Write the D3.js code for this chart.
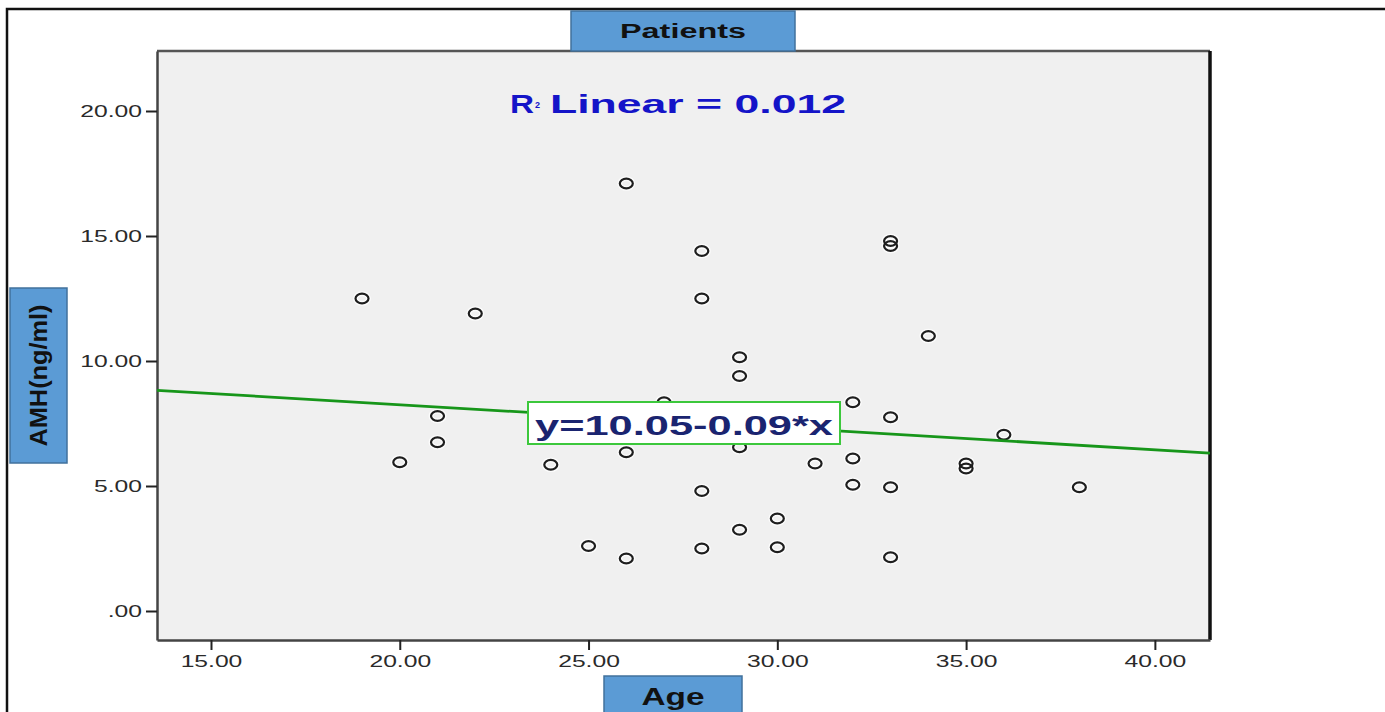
<!DOCTYPE html>
<html>
<head>
<meta charset="utf-8">
<script src="https://cdn.jsdelivr.net/npm/d3@7"></script>
<style>
	body { margin: 0; background: #fff; overflow: hidden; }
	svg { display: block; }
	.tick text { font-family: "Liberation Sans", Arial, sans-serif; font-size: 17px; fill: #2a2a2a; }
</style>
</head>
<body>
<div id="chart"></div>
<script>
// data
var ages = [19, 20, 21, 21, 22, 24, 25, 26, 26, 26, 27, 28, 28, 28, 28, 29, 29, 29, 29,
	30, 30, 31, 32, 32, 32, 33, 33, 33, 33, 33, 34, 35, 35, 36, 38];
var amh = [12.5, 5.95, 7.8, 6.75, 11.9, 5.85, 2.6, 17.1, 6.35, 2.1, 8.35, 14.4, 12.5, 4.8, 2.5,
	10.15, 9.4, 6.55, 3.25, 3.7, 2.55, 5.9, 8.35, 6.1, 5.05, 14.8, 14.6, 7.75, 4.95, 2.15,
	11.0, 5.9, 5.7, 7.05, 4.95];
var xTicks = [15, 20, 25, 30, 35, 40];
var yTicks = [0, 5, 10, 15, 20];
var fit = { a: 10.05, b: -0.09, r2: 0.012 };

var W = 1385, H = 712;
var plot = { left: 157, top: 51, right: 1210, bottom: 640 };
var FONT = "Liberation Sans, Arial, sans-serif";

var svg = d3.select("#chart").append("svg").attr("width", W).attr("height", H);

// the source picture is stretched sideways, so text gets widened to match
function widen(sel, k){
	sel.each(function(){
		var w = this.getComputedTextLength();
		d3.select(this).attr("textLength", w * k).attr("lengthAdjust", "spacingAndGlyphs");
	});
}
function fitTo(sel, w){
	sel.attr("textLength", w).attr("lengthAdjust", "spacingAndGlyphs");
}

// outer frame (right and bottom edges fall outside the picture)
svg.append("path").attr("d", "M7,712 V9 H1385")
	.attr("fill", "none").attr("stroke", "#111").attr("stroke-width", 2.5);

var x = d3.scaleLinear().domain([13.57, 41.46]).range([plot.left, plot.right]);
var y = d3.scaleLinear().domain([-1.16, 22.4]).range([plot.bottom, plot.top]);

svg.append("rect")
	.attr("x", plot.left).attr("y", plot.top)
	.attr("width", plot.right - plot.left).attr("height", plot.bottom - plot.top)
	.attr("fill", "#f0f0f0");

// frame lines
svg.append("line").attr("x1", plot.left).attr("x2", plot.right).attr("y1", plot.top).attr("y2", plot.top)
	.attr("stroke", "#555").attr("stroke-width", 2.5);
svg.append("line").attr("x1", plot.right).attr("x2", plot.right).attr("y1", plot.top).attr("y2", plot.bottom)
	.attr("stroke", "#111").attr("stroke-width", 3.5);

var xAxis = svg.append("g").attr("transform", "translate(0," + plot.bottom + ")")
	.call(d3.axisBottom(x).tickValues(xTicks).tickSize(10).tickSizeOuter(0).tickPadding(5)
		.tickFormat(function(d){ return d3.format(".2f")(d); }));
var yAxis = svg.append("g").attr("transform", "translate(" + plot.left + ",0)")
	.call(d3.axisLeft(y).tickValues(yTicks).tickSize(11).tickSizeOuter(0).tickPadding(4)
		.tickFormat(function(d){ return d === 0 ? ".00" : d3.format(".2f")(d); }));
[xAxis, yAxis].forEach(function(g){
	g.select(".domain").attr("stroke", "#444").attr("stroke-width", 2.5);
	g.selectAll(".tick line").attr("stroke", "#222").attr("stroke-width", 2);
	widen(g.selectAll(".tick text"), 1.45);
});

// points, with the faint white halo of the source
var pts = ages.map(function(a, i){ return [a, amh[i]]; });
var gp = svg.append("g");
gp.selectAll("ellipse.halo").data(pts).join("ellipse").attr("class", "halo")
	.attr("cx", function(d){ return x(d[0]); })
	.attr("cy", function(d){ return y(d[1]); })
	.attr("rx", 6.5).attr("ry", 4.8)
	.attr("fill", "none").attr("stroke", "#fff").attr("stroke-width", 5).attr("opacity", 0.8);
gp.selectAll("ellipse.pt").data(pts).join("ellipse").attr("class", "pt")
	.attr("cx", function(d){ return x(d[0]); })
	.attr("cy", function(d){ return y(d[1]); })
	.attr("rx", 6.5).attr("ry", 4.8)
	.attr("fill", "none").attr("stroke", "#1e1e1e").attr("stroke-width", 2.2);

// fit line
var xd = x.domain();
svg.append("line")
	.attr("x1", x(xd[0])).attr("y1", y(fit.a + fit.b * xd[0]))
	.attr("x2", x(xd[1])).attr("y2", y(fit.a + fit.b * xd[1]))
	.attr("stroke", "#17961a").attr("stroke-width", 2.8);

// equation label
svg.append("rect").attr("x", 528).attr("y", 402).attr("width", 312).attr("height", 42)
	.attr("fill", "#fff").attr("stroke", "#3cc83c").attr("stroke-width", 2);
fitTo(svg.append("text").attr("x", 535).attr("y", 435)
	.attr("font-family", FONT).attr("font-weight", "bold")
	.attr("font-size", 28).attr("fill", "#1a2470")
	.text("y=" + fit.a.toFixed(2) + "-" + Math.abs(fit.b).toFixed(2) + "*x"), 298);

// R2 label
var r2 = svg.append("g").attr("font-family", FONT).attr("font-weight", "bold").attr("fill", "#1414c8");
fitTo(r2.append("text").attr("x", 510).attr("y", 113).attr("font-size", 26).text("R"), 24);
r2.append("text").attr("x", 535).attr("y", 108).attr("font-size", 9).text("2");
fitTo(r2.append("text").attr("x", 550).attr("y", 113).attr("font-size", 26)
	.text("Linear = " + fit.r2.toFixed(3)), 296);

// title + axis title boxes
function labelBox(bx, by, bw, bh, txt, size, tw, rotate){
	svg.append("rect").attr("x", bx).attr("y", by).attr("width", bw).attr("height", bh)
		.attr("fill", "#5b9bd5").attr("stroke", "#41719c").attr("stroke-width", 1.5);
	var cx = bx + bw / 2, cy = by + bh / 2;
	var t = svg.append("text")
		.attr("transform", "translate(" + cx + "," + cy + ")" + (rotate ? " rotate(-90)" : ""))
		.attr("text-anchor", "middle").attr("dominant-baseline", "central")
		.attr("font-family", FONT)
		.attr("font-weight", "bold").attr("font-size", size).attr("fill", "#111")
		.text(txt);
	fitTo(t, tw);
}
labelBox(571, 11, 224, 40, "Patients", 20, 126, false);
labelBox(10, 288, 57, 175, "AMH(ng/ml)", 24, 142, true);
labelBox(604, 676, 138, 40, "Age", 24, 63, false);
</script>
</body>
</html>
